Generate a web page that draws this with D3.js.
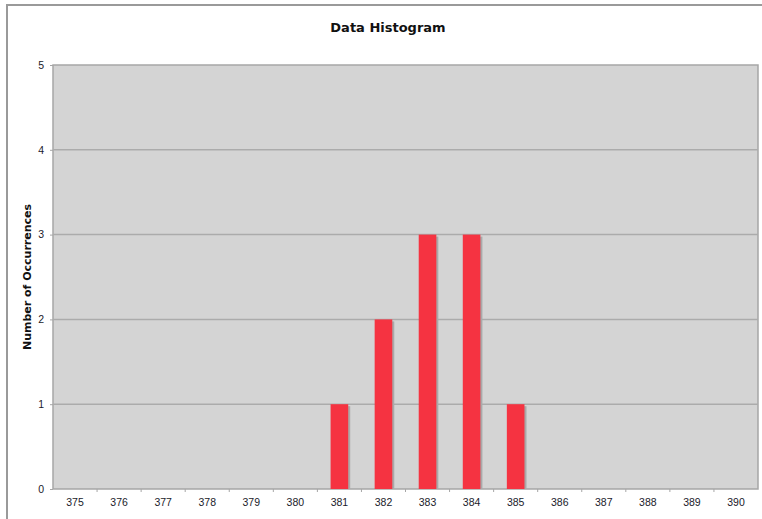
<!DOCTYPE html>
<html lang="en">
<head>
  <meta charset="UTF-8" />
  <title>Data Histogram</title>
  <style>
    body { margin: 0; background: #fff; }
    svg { display: block; font-family: "DejaVu Sans", Verdana, sans-serif; }
    .frame { fill: #fff; stroke: #9a9a9a; stroke-width: 2px; }
    .plot-bg { fill: #d4d4d4; stroke: #a6a6a6; stroke-width: 1.5px; }
    .grid-line { stroke: #ababab; stroke-width: 1.5px; }
    .bar { fill: #f53341; }
    .bar-shadow { fill: #a9a9a9; }
    .axis path, .axis line { stroke: #a6a6a6; }
    .axis text { fill: #1a1a2a; font-size: 10.5px; }
    .title { font-size: 13px; font-weight: bold; fill: #111; }
    .ylabel { font-size: 11px; font-weight: bold; fill: #111; }
  </style>
</head>
<body>
  <script src="https://cdn.jsdelivr.net/npm/d3@7"></script>
  <script>
    var bins = ["375", "376", "377", "378", "379", "380", "381", "382",
                "383", "384", "385", "386", "387", "388", "389", "390"];
    var counts = [0, 0, 0, 0, 0, 0, 1, 2, 3, 3, 1, 0, 0, 0, 0, 0];
    var yTicks = [0, 1, 2, 3, 4, 5];

    var w = 762;
    var h = 519;
    var margin = { top: 65, right: 4, bottom: 30, left: 53 };
    var innerW = w - margin.left - margin.right;
    var innerH = h - margin.top - margin.bottom;

    var data = bins.map(function(b, i) {
      return { bin: b, count: counts[i] };
    });

    var svg = d3.select("body").append("svg")
      .attr("width", w)
      .attr("height", h);

    // outer chart frame
    svg.append("rect")
      .attr("class", "frame")
      .attr("x", 7)
      .attr("y", 5)
      .attr("width", w + 10)
      .attr("height", h + 10);

    svg.append("text")
      .attr("class", "title")
      .attr("x", 388)
      .attr("y", 32)
      .attr("text-anchor", "middle")
      .text("Data Histogram");

    var xScale = d3.scaleBand()
      .domain(bins)
      .range([0, innerW])
      .paddingInner(0)
      .paddingOuter(0);

    var yScale = d3.scaleLinear()
      .domain([0, 5])
      .range([innerH, 0]);

    var g = svg.append("g")
      .attr("transform", "translate(" + margin.left + "," + margin.top + ")");

    g.append("rect")
      .attr("class", "plot-bg")
      .attr("x", 0)
      .attr("y", 0)
      .attr("width", innerW)
      .attr("height", innerH);

    g.selectAll(".grid-line")
      .data(yTicks.filter(function(t) { return t > 0 && t < 5; }))
      .enter()
      .append("line")
      .attr("class", "grid-line")
      .attr("x1", 0)
      .attr("x2", innerW)
      .attr("y1", function(d) { return yScale(d); })
      .attr("y2", function(d) { return yScale(d); });

    var barW = xScale.bandwidth() * 0.4;

    var filled = data.filter(function(d) { return d.count > 0; });

    // little shadow on the right of each bar
    g.selectAll(".bar-shadow")
      .data(filled)
      .enter()
      .append("rect")
      .attr("class", "bar-shadow")
      .attr("x", function(d) { return xScale(d.bin) + (xScale.bandwidth() - barW) / 2 + 2; })
      .attr("y", function(d) { return yScale(d.count) + 2; })
      .attr("width", barW)
      .attr("height", function(d) { return innerH - yScale(d.count) - 2; });

    g.selectAll(".bar")
      .data(filled)
      .enter()
      .append("rect")
      .attr("class", "bar")
      .attr("x", function(d) { return xScale(d.bin) + (xScale.bandwidth() - barW) / 2; })
      .attr("y", function(d) { return yScale(d.count); })
      .attr("width", barW)
      .attr("height", function(d) { return innerH - yScale(d.count); });

    var xAxis = d3.axisBottom(xScale)
      .tickSize(0)
      .tickPadding(10);

    var xg = g.append("g")
      .attr("class", "axis")
      .attr("transform", "translate(0," + innerH + ")")
      .call(xAxis);
    xg.select(".domain").remove();

    // tick marks sit on the band edges
    xg.selectAll(".edge-tick")
      .data(bins.slice(1))
      .enter()
      .append("line")
      .attr("class", "edge-tick")
      .attr("x1", function(d) { return xScale(d); })
      .attr("x2", function(d) { return xScale(d); })
      .attr("y1", 0)
      .attr("y2", 3);

    var yAxis = d3.axisLeft(yScale)
      .tickValues(yTicks)
      .tickFormat(d3.format("d"))
      .tickSize(3)
      .tickPadding(6);

    var yg = g.append("g")
      .attr("class", "axis")
      .call(yAxis);
    yg.select(".domain").remove();

    svg.append("text")
      .attr("class", "ylabel")
      .attr("transform", "translate(31," + (margin.top + innerH / 2) + ") rotate(-90)")
      .attr("text-anchor", "middle")
      .text("Number of Occurrences");
  </script>
</body>
</html>
